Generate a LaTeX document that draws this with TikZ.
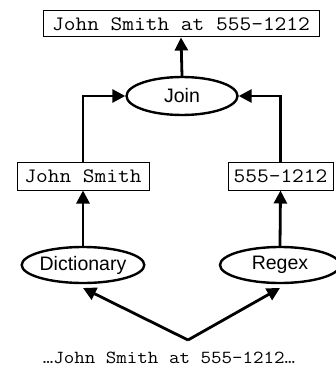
\documentclass[tikz,border=0pt]{standalone}
\usepackage{fontspec}
\setmainfont{Liberation Sans}
\newfontfamily\monofont[FakeStretch=1.11]{Latin Modern Mono}
\usetikzlibrary{shapes.geometric,arrows.meta}

\tikzset{
  tbox/.style={draw, line width=1pt, rectangle, inner sep=0pt,
    font=\monofont\fontsize{20.5}{21}\selectfont},
  opnode/.style={draw, line width=2.4pt, ellipse, inner sep=0pt,
    font=\fontsize{19.5}{20}\selectfont},
  flow/.style={line width=2.8pt, -{Triangle[length=13pt,width=13pt]}}
}

\begin{document}
\begin{tikzpicture}[x=1pt, y=-1pt]
  \useasboundingbox (0,0) rectangle (335,369);

  % result
  \node[tbox, minimum width=276pt, minimum height=26pt] (res) at (181,24) {John Smith at 555-1212};
  % join operator
  \node[opnode, minimum width=111pt, minimum height=38pt] (join) at (182,96) {Join};
  % intermediate matches
  \node[tbox, minimum width=132pt, minimum height=28pt] (name) at (83,176) {John Smith};
  \node[tbox, minimum width=105pt, minimum height=28pt] (phone) at (280.5,176) {555-1212};
  % extractors
  \node[opnode, minimum width=118pt, minimum height=36pt] (dict) at (83,265) {Dictionary};
  \node[opnode, minimum width=120pt, minimum height=36pt] (regex) at (280,265) {Regex};
  % input text
  \node[font=\monofont\fontsize{18.4}{19}\selectfont] (src) at (169,358) {…John Smith at 555-1212…};
  \coordinate (apex) at (188,340);
  \coordinate (dtip) at (83,288);
  \coordinate (rtip) at (280,288);

  \draw[flow] (join.north) -- (res.south);
  \draw[flow] (name.north) |- (join.west);
  \draw[flow] (phone.north) |- (join.east);
  \draw[flow] (dict.north) -- (name.south);
  \draw[flow] (regex.north) -- (phone.south);
  \draw[flow, line join=miter] (apex) -- (dtip);
  \draw[flow, line join=miter] (apex) -- (rtip);
\end{tikzpicture}
\end{document}
